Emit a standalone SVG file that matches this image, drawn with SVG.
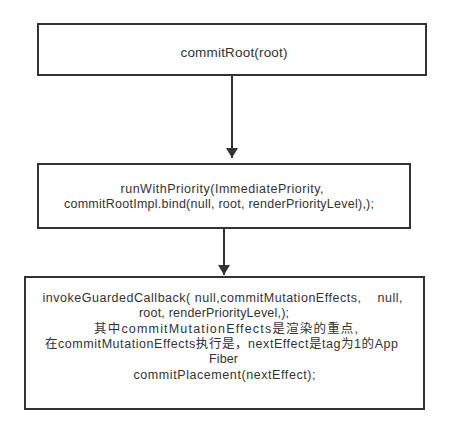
<svg xmlns="http://www.w3.org/2000/svg" width="451" height="435" viewBox="0 0 451 435">
<style>
.box{fill:#fff;stroke:#333;stroke-width:2}
.t{font-family:"Liberation Sans","Noto Sans CJK SC",sans-serif;font-size:12.5px;fill:#333;text-anchor:middle;white-space:pre}
.big{font-size:13.5px}
.edge{stroke:#333;stroke-width:2;fill:none}
</style>
<defs>
<marker id="ah" markerWidth="10" markerHeight="12" refX="10" refY="6" orient="auto" markerUnits="userSpaceOnUse">
<path d="M0,0 L10,6 L0,12 Z" fill="#333"/>
</marker>
</defs>
<rect width="451" height="435" fill="#fff"/>
<g id="edges">
<line class="edge" x1="232" y1="75" x2="232" y2="158" marker-end="url(#ah)"/>
<line class="edge" x1="224" y1="228" x2="224" y2="275" marker-end="url(#ah)"/>
</g>
<g id="n1">
<rect class="box" x="38" y="24" width="388" height="51"/>
<text class="t big" x="234" y="57" textLength="107">commitRoot(root)</text>
</g>
<g id="n2">
<rect class="box" x="38" y="164" width="372" height="64"/>
<text class="t" x="222" y="193" textLength="203">runWithPriority(ImmediatePriority,</text>
<text class="t" x="219" y="208" textLength="310">commitRootImpl.bind(null, root, renderPriorityLevel),);</text>
</g>
<g id="n3">
<rect class="box" x="25" y="277" width="399" height="132"/>
<text class="t" x="222.5" y="302" textLength="360" xml:space="preserve">invokeGuardedCallback( null,commitMutationEffects,    null,</text>
<text class="t" x="214" y="317" textLength="150">root, renderPriorityLevel,);</text>
<text class="t" x="226" y="333" textLength="264">其中commitMutationEffects是渲染的重点,</text>
<text class="t" x="221.5" y="348" textLength="353">在commitMutationEffects执行是，nextEffect是tag为1的App</text>
<text class="t" x="223.5" y="363" textLength="29">Fiber</text>
<text class="t" x="224.5" y="379" textLength="182">commitPlacement(nextEffect);</text>
</g>
</svg>
